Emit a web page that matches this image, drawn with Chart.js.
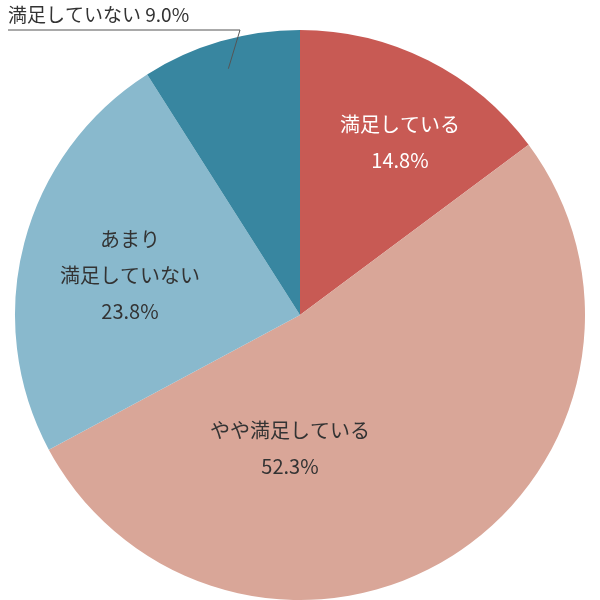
<!DOCTYPE html>
<html><head><meta charset="utf-8">
<script src="https://cdn.jsdelivr.net/npm/chart.js"></script>
<style>body{margin:0;background:#fff}#wrap{width:600px;height:600px}</style>
</head><body><div id="wrap"><canvas id="c"></canvas></div>
<script>
const categories = ["満足している", "やや満足している", "あまり満足していない", "満足していない"];
const values = [14.8, 52.3, 23.8, 9.0];
const colors = ["#c85a54", "#d9a698", "#89b9cd", "#3886a0"];

// label lines and offsets from pie center
const labelLines = [["満足している", "14.8%"], ["やや満足している", "52.3%"], ["あまり", "満足していない", "23.8%"], null];
const labelOffsets = [[100, -173], [-10, 133], [-170, -40], null];

const labelPlugin = {
  id: "labels",
  afterDatasetsDraw(chart) {
    const ctx = chart.ctx;
    const arc = chart.getDatasetMeta(0).data[0];
    const cx = arc.x, cy = arc.y;
    ctx.save();
    ctx.font = "20px 'Noto Sans CJK JP'";
    ctx.textAlign = "center";
    ctx.textBaseline = "middle";
    labelLines.forEach((lines, i) => {
      if (!lines) return;
      ctx.fillStyle = i === 0 ? "#fff" : "#333";
      const [ox, oy] = labelOffsets[i];
      lines.forEach((t, j) => {
        ctx.fillText(t, cx + ox, cy + oy + (j - (lines.length - 1) / 2) * 36);
      });
    });
    // outside label for last slice
    const a = chart.getDatasetMeta(0).data[3];
    const mid = (a.startAngle + a.endAngle) / 2;
    const px = cx + Math.cos(mid) * a.outerRadius * 0.9;
    const py = cy + Math.sin(mid) * a.outerRadius * 0.9;
    ctx.strokeStyle = "#555";
    ctx.lineWidth = 1;
    ctx.beginPath();
    ctx.moveTo(px, py);
    ctx.lineTo(240, 30);
    ctx.lineTo(8, 30);
    ctx.stroke();
    ctx.fillStyle = "#333";
    ctx.textAlign = "left";
    ctx.font = "19px 'Noto Sans CJK JP'";
    ctx.fillText(categories[3] + " " + values[3].toFixed(1) + "%", 8, 15);
    ctx.restore();
  }
};

new Chart(document.getElementById("c"), {
  type: "pie",
  data: { labels: categories, datasets: [{ data: values, backgroundColor: colors, borderWidth: 0 }] },
  options: {
    responsive: true, maintainAspectRatio: false, animation: false,
    layout: { padding: { top: 30 } },
    plugins: { legend: { display: false }, tooltip: { enabled: false } }
  },
  plugins: [labelPlugin]
});
</script></body></html>
